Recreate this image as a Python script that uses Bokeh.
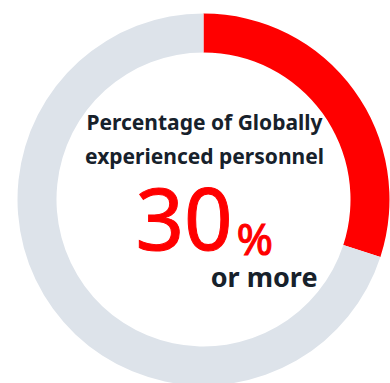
import math
from bokeh.plotting import figure
from bokeh.embed import file_html
from bokeh.resources import INLINE
from bokeh.core.properties import value

# data
segments = ["Globally experienced", "Other"]
shares = [30, 70]
colors = ["#ff0000", "#dde3ea"]
title_lines = ["Percentage of Globally", "experienced personnel"]
big_value = "30"
unit = "%"
suffix = "or more"

W, H = 390, 383
p = figure(width=W, height=H, x_range=(0, W), y_range=(0, H),
           output_backend="svg", toolbar_location=None, min_border=0)
p.axis.visible = False
p.grid.visible = False
p.outline_line_color = None
p.background_fill_color = "white"
p.border_fill_color = "white"

cx, cy = 203, 184
r_out, r_in = 186, 147

# angles: start at 12 o'clock, clockwise
total = sum(shares)
start = math.pi / 2
starts, ends = [], []
for s in shares:
    span = 2 * math.pi * s / total
    ends.append(start)
    starts.append(start - span)
    start -= span

p.annular_wedge(x=[cx] * len(shares), y=[cy] * len(shares), inner_radius=r_in,
                outer_radius=r_out, start_angle=starts, end_angle=ends,
                fill_color=colors, line_color=None)

dark = "#17212b"
font = value("Noto Sans")
p.text(x=[204, 204], y=[262, 228], text=title_lines, text_align="center",
       text_baseline="alphabetic", text_font=font, text_font_style="bold",
       text_font_size="21px", text_color=dark)
p.text(x=[135], y=[165], text=[big_value], text_align="left", text_baseline="alphabetic",
       text_font=font, text_font_size="85px", text_color="#ff0000",
       text_outline_color="#ff0000")
p.text(x=[236], y=[146], text=[unit], text_align="left", text_baseline="alphabetic",
       text_font=font, text_font_size="44px", text_color="#ff0000",
       text_outline_color="#ff0000")
p.text(x=[317], y=[107], text=[suffix], text_align="right", text_baseline="alphabetic",
       text_font=font, text_font_style="bold", text_font_size="27px", text_color=dark)

open("out.html", "w").write(file_html(p, INLINE))
